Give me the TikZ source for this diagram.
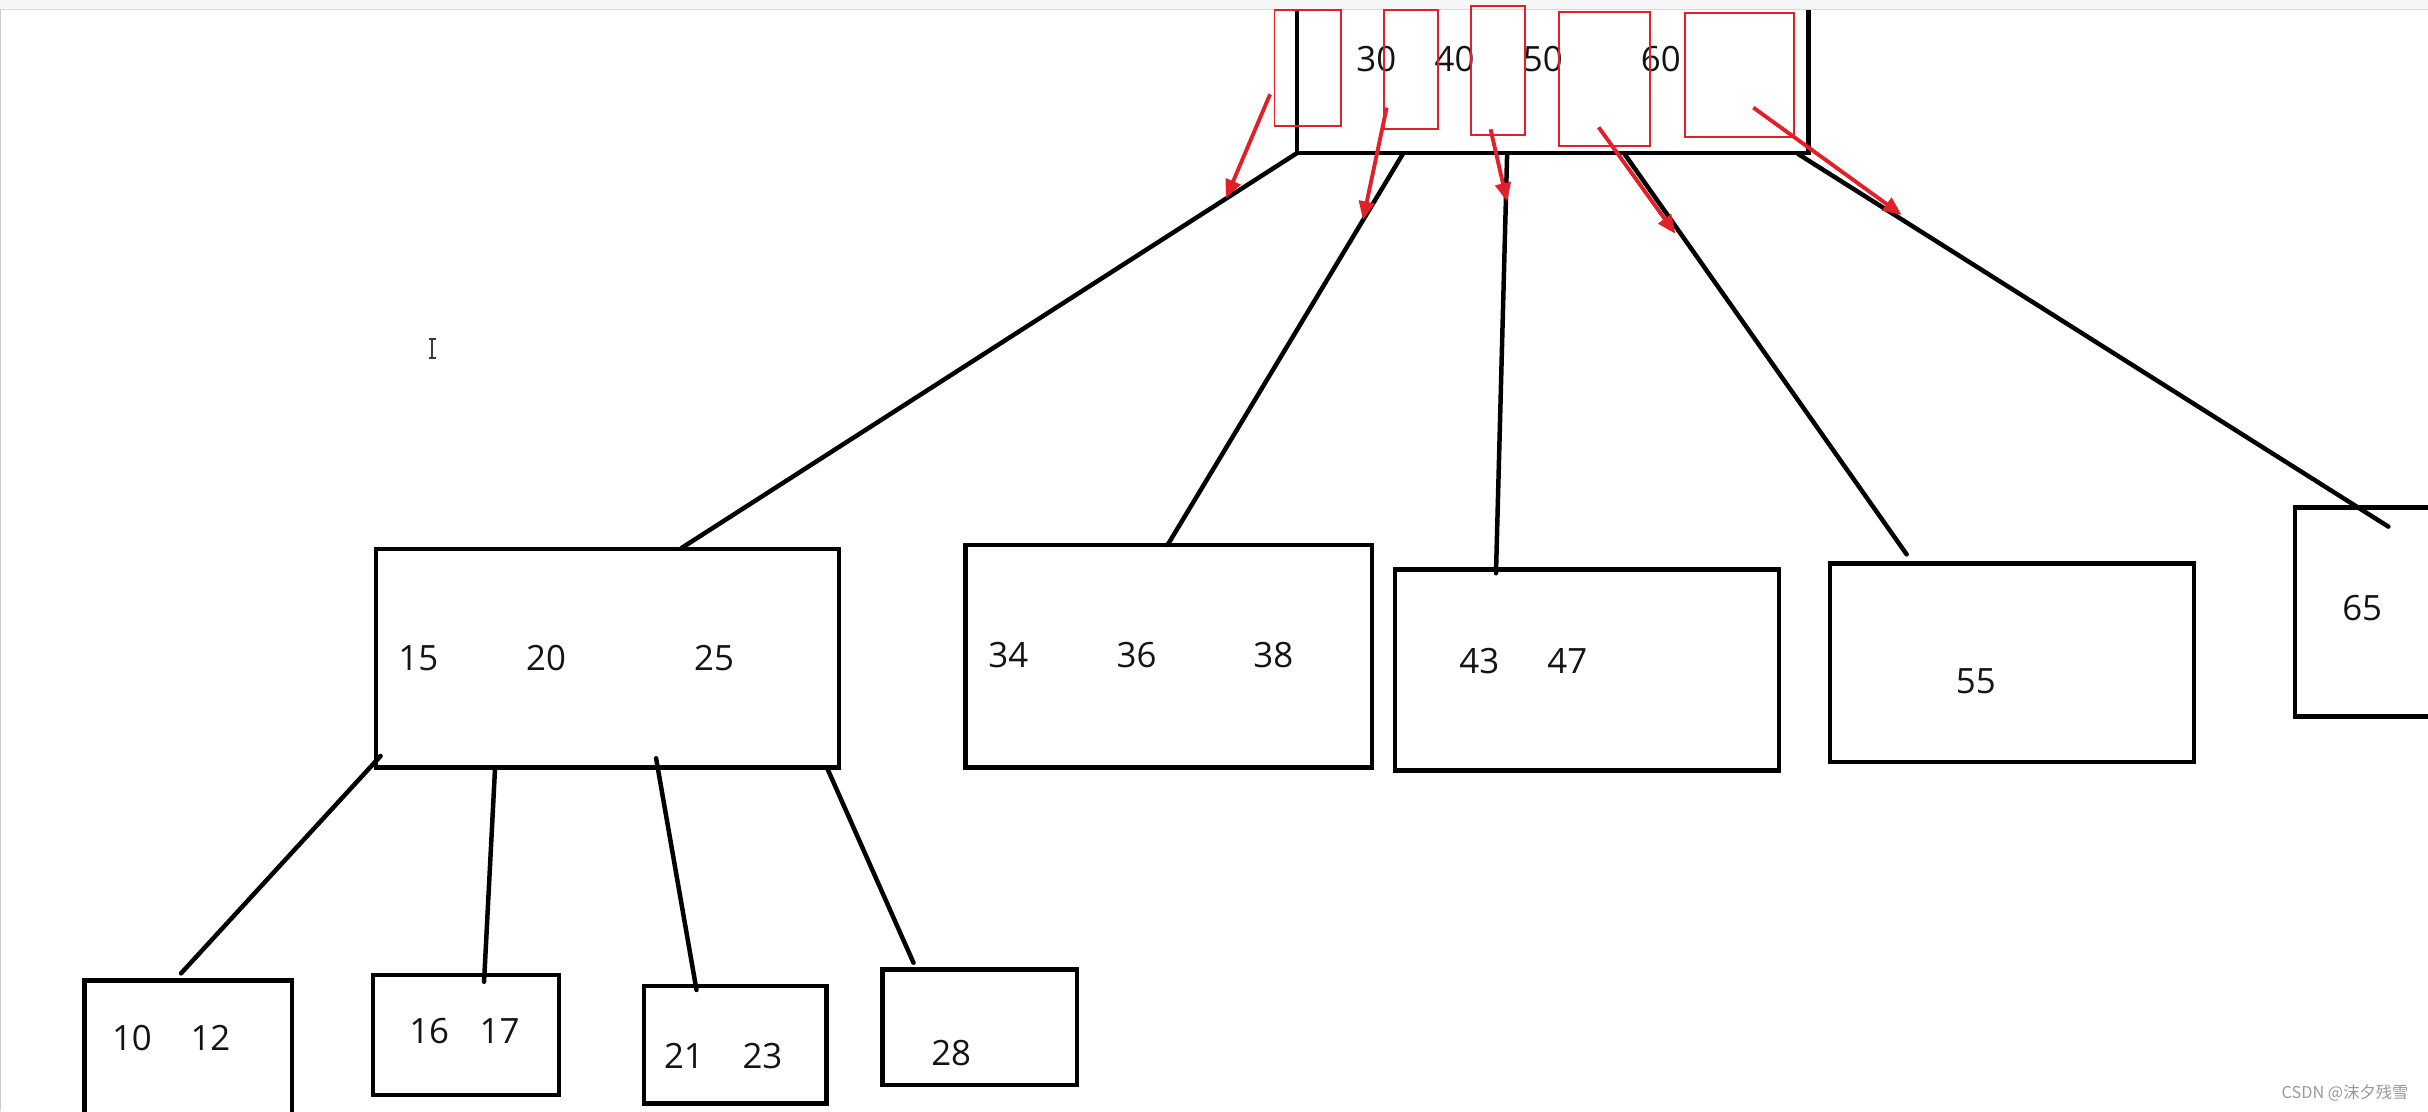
\documentclass[tikz,border=0pt]{standalone}
\usepackage{fontspec}
\setmainfont{Open Sans}
\newfontfamily\cjkfont{Noto Sans CJK SC}
\usetikzlibrary{arrows.meta}
\definecolor{mred}{RGB}{226,32,42}
\definecolor{ink}{RGB}{20,20,20}
\begin{document}
\begin{tikzpicture}[x=1pt,y=-1pt,
  key/.style={font=\fontsize{22.5}{22.5}\selectfont, inner sep=0pt, text=ink},
  nodebox/.style={draw=black, line width=2.9pt, rectangle, inner sep=0pt},
  link/.style={draw=black, line width=2.9pt, line cap=round},
  redbox/.style={draw=mred, line width=1.2pt, rectangle, inner sep=0pt},
  redarrow/.style={draw=mred, line width=2.5pt, -{Triangle[length=12pt,width=10pt]}},
]
\useasboundingbox (0,0) rectangle (1568,717.5);
\fill[white] (0,0) rectangle (1568,717.5);
% toolbar strip
\fill[gray!7] (0,0) rectangle (1568,6);
\draw[gray!30, line width=0.6pt] (0,6) -- (1568,6);
\draw[gray!40, line width=0.6pt] (0.4,6) -- (0.4,717.5);

% root node (top hidden under toolbar)
\node[inner sep=0pt, minimum width=329.8pt, minimum height=92.1pt] (root) at (1002.7,52.55) {};
\draw[link, line cap=butt] (root.north west) -- (root.south west) -- (root.south east) -- (root.north east);
\node[key] (t30) at (888.8,38.3) {30};
\node[key] (t40) at (939.3,38.3) {40};
\node[key] (t50) at (996.4,38.3) {50};
\node[key] (t60) at (1072.5,38.3) {60};

% red marker boxes
\node[redbox, minimum width=42.9pt, minimum height=74.9pt] (r1) at (844.55,43.95) {};
\node[redbox, minimum width=34.9pt, minimum height=76.6pt] (r2) at (911.15,44.8) {};
\node[redbox, minimum width=34.8pt, minimum height=83.5pt] (r3) at (967.4,45.45) {};
\node[redbox, minimum width=58.3pt, minimum height=86.4pt] (r4) at (1036.15,50.9) {};
\node[redbox, minimum width=70.1pt, minimum height=80.1pt] (r5) at (1123.35,48.65) {};

% second level
\node[nodebox, minimum width=299pt, minimum height=141pt] (b1) at (392.3,425) {};
\node[nodebox, minimum width=262.6pt, minimum height=143.5pt] (b2) at (754.7,423.75) {};
\node[nodebox, minimum width=248pt, minimum height=130pt] (b3) at (1024.9,432.7) {};
\node[nodebox, minimum width=235.2pt, minimum height=128.2pt] (b4) at (1299.4,427.9) {};
\node[nodebox, minimum width=98pt, minimum height=135.2pt] (b5) at (1531,395.2) {};

\node[key] (k15) at (270.2,425.1) {15};
\node[key] (k20) at (352.6,425.1) {20};
\node[key] (k25) at (461.1,425.1) {25};
\node[key] (k34) at (651.2,423) {34};
\node[key] (k36) at (734,423) {36};
\node[key] (k38) at (822.3,423) {38};
\node[key] (k43) at (955.3,426.7) {43};
\node[key] (k47) at (1012.2,426.7) {47};
\node[key] (k55) at (1276,440) {55};
\node[key] (k65) at (1525.5,392.9) {65};

% leaves
\node[nodebox, minimum width=134.1pt, minimum height=96.7pt] (la) at (121.5,681.6) {};
\node[nodebox, minimum width=120pt, minimum height=77.5pt] (lb) at (301,668.35) {};
\node[nodebox, minimum width=117.8pt, minimum height=75.8pt] (lc) at (474.8,674.6) {};
\node[nodebox, minimum width=125.5pt, minimum height=74.7pt] (ld) at (632.65,663.35) {};

\node[key] (k10) at (85.2,670.5) {10};
\node[key] (k12) at (135.9,670.5) {12};
\node[key] (k16) at (277.2,665.8) {16};
\node[key] (k17) at (322.6,665.8) {17};
\node[key] (k21) at (441.7,681.9) {21};
\node[key] (k23) at (492.4,681.9) {23};
\node[key] (k28) at (614.3,680.2) {28};

% connector end points
\coordinate (sA) at (838,98.6);
\coordinate (eA) at (440,354);
\coordinate (sB) at (906.2,99);
\coordinate (eB) at (754,352);
\coordinate (sC) at (973.3,99);
\coordinate (eC) at (966.1,370.2);
\coordinate (sD) at (1048.8,99);
\coordinate (eD) at (1231.3,358);
\coordinate (sE) at (1161.3,99.5);
\coordinate (eE) at (1542.4,340.1);
\coordinate (s1) at (245.8,488.2);
\coordinate (e1) at (116.9,628.6);
\coordinate (s2) at (319.7,496);
\coordinate (e2) at (312.6,634);
\coordinate (s3) at (423.7,489.7);
\coordinate (e3) at (449.8,639.3);
\coordinate (s4) at (533.9,495.4);
\coordinate (e4) at (589.9,621.7);

\draw[link] (sA) -- (eA);
\draw[link] (sB) -- (eB);
\draw[link] (sC) -- (eC);
\draw[link] (sD) -- (eD);
\draw[link] (sE) -- (eE);
\draw[link] (s1) -- (e1);
\draw[link] (s2) -- (e2);
\draw[link] (s3) -- (e3);
\draw[link] (s4) -- (e4);

% red arrows
\coordinate (a1s) at (820.2,60.9);
\coordinate (a1e) at (791.7,128.1);
\coordinate (a2s) at (895.5,69.5);
\coordinate (a2e) at (880.2,142.1);
\coordinate (a3s) at (962.6,83.5);
\coordinate (a3e) at (973.3,130.2);
\coordinate (a4s) at (1032.4,82.2);
\coordinate (a4e) at (1082,151);
\coordinate (a5s) at (1132.3,69.5);
\coordinate (a5e) at (1228.1,138.8);
\draw[redarrow] (a1s) -- (a1e);
\draw[redarrow] (a2s) -- (a2e);
\draw[redarrow] (a3s) -- (a3e);
\draw[redarrow] (a4s) -- (a4e);
\draw[redarrow] (a5s) -- (a5e);

% text cursor (I-beam)
\draw[gray!45!black, line width=1.1pt] (279.2,219) -- (279.2,231)
  (277,219) -- (281.4,219) (277,231) -- (281.4,231);

% watermark
\node[inner sep=0pt, text=gray!80, font=\cjkfont\fontsize{10.5}{10.5}\selectfont] (wm) at (1514.4,705.6) {CSDN @沫夕残雪};
\end{tikzpicture}
\end{document}
